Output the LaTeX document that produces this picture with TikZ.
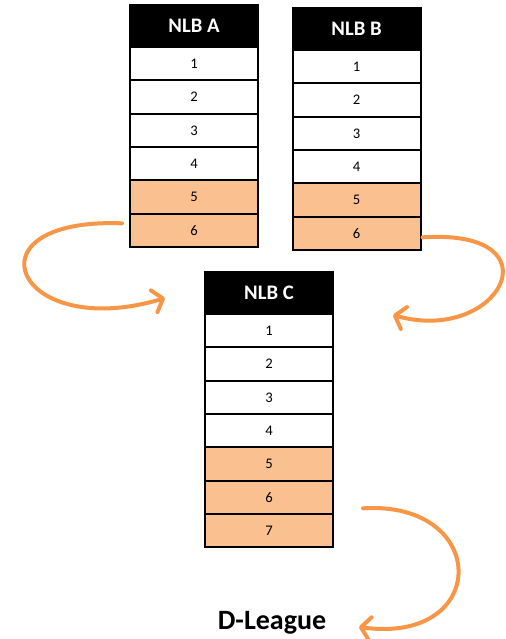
\documentclass[tikz,border=0pt]{standalone}
\usepackage{fontspec}
\setmainfont{Carlito}
\usetikzlibrary{arrows.meta, positioning, calc}
\definecolor{nlborange}{HTML}{F79646}
\definecolor{nlbpeach}{HTML}{FAC090}

\begin{document}
\begin{tikzpicture}[
    x=0.75pt, y=-0.75pt,
    head/.style={draw=black, fill=black, text=white, line width=1.5pt, outer sep=0pt, minimum width=96pt, minimum height=31.5pt, font=\fontsize{15.5}{18}\selectfont\bfseries},
    slot/.style={draw=black, fill=#1, line width=1.5pt, outer sep=0pt, minimum width=96pt, minimum height=25pt, font=\fontsize{11}{13}\selectfont},
    slot/.default=white,
    movearrow/.style={-{Straight Barb[length=7pt, width=17pt, round]}, line width=3pt, color=nlborange, line cap=round},
]
\useasboundingbox (0,0) rectangle (506,639);

% NLB A
\node[head] (ahead) at (194,26) {NLB A};
\node[slot, below=0pt of ahead] (a1) {1};
\node[slot, below=0pt of a1] (a2) {2};
\node[slot, below=0pt of a2] (a3) {3};
\node[slot, below=0pt of a3] (a4) {4};
\node[slot=nlbpeach, below=0pt of a4] (a5) {5};
\node[slot=nlbpeach, below=0pt of a5] (a6) {6};

% NLB B
\node[head] (bhead) at (356.5,29) {NLB B};
\node[slot, below=0pt of bhead] (b1) {1};
\node[slot, below=0pt of b1] (b2) {2};
\node[slot, below=0pt of b2] (b3) {3};
\node[slot, below=0pt of b3] (b4) {4};
\node[slot=nlbpeach, below=0pt of b4] (b5) {5};
\node[slot=nlbpeach, below=0pt of b5] (b6) {6};

% NLB C
\node[head] (chead) at (269,293) {NLB C};
\node[slot, below=0pt of chead] (c1) {1};
\node[slot, below=0pt of c1] (c2) {2};
\node[slot, below=0pt of c2] (c3) {3};
\node[slot, below=0pt of c3] (c4) {4};
\node[slot=nlbpeach, below=0pt of c4] (c5) {5};
\node[slot=nlbpeach, below=0pt of c5] (c6) {6};
\node[slot=nlbpeach, below=0pt of c6] (c7) {7};

% D-League
\node[font=\fontsize{21}{25}\selectfont\bfseries] (dl) at (272,623) {D-League};

% Moves
\draw[movearrow] ($(a6.west)+(-8,-7)$) .. controls +(-160,-6) and +(-150,45) .. ($(chead.west)+(-40,5)$);
\draw[movearrow] ($(b6.east)+(2,4)$) .. controls +(138,-9) and +(107,30) .. ($(chead.east)+(60,22)$);
\draw[movearrow] ($(c6.east)+(30,11)$) .. controls +(127,-8) and +(132,18) .. ($(dl.east)+(28,4)$);

\end{tikzpicture}
\end{document}
